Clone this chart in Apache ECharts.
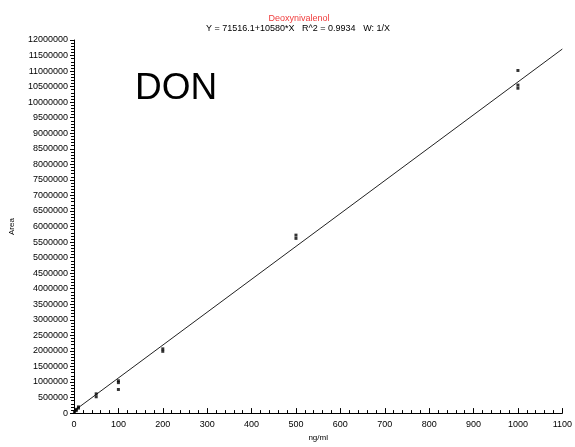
<!DOCTYPE html>
<html>
<head>
<meta charset="utf-8">
<script src="https://cdn.jsdelivr.net/npm/echarts@6/dist/echarts.min.js"></script>
<style>
html,body{margin:0;padding:0;background:#fff;}
#c{width:575px;height:447px;}
</style>
</head>
<body>
<div id="c"></div>
<script>
// Data
var concX = [1, 5, 5, 10, 10, 50, 50, 100, 100, 100, 200, 200, 500, 500, 1000, 1000, 1000];
var areaY = [40000, 120000, 80000, 200000, 160000, 620000, 525000, 1040000, 980000, 760000, 2066000, 1987000, 5724000, 5620000, 11020000, 10550000, 10450000];
var fitX = [0, 1100];
var fitY = [71516.1, 11709516.1];
var titleText = 'Deoxynivalenol';
var equationText = 'Y = 71516.1+10580*X   R^2 = 0.9934   W: 1/X';
var xTicks = [0, 100, 200, 300, 400, 500, 600, 700, 800, 900, 1000, 1100];

var FONT = 'Liberation Sans, Arial, sans-serif';
var points = concX.map(function (x, i) { return [x, areaY[i]]; });
var fitLine = fitX.map(function (x, i) { return [x, fitY[i]]; });
var plain = function (v) { return String(v); };

var chart = echarts.init(document.getElementById('c'), null, {renderer: 'canvas'});
chart.setOption({
  backgroundColor: '#fff',
  animation: false,
  title: [
    {text: titleText, left: 294, top: 9, textAlign: 'center',
     textStyle: {fontSize: 9, color: '#f03c3c', fontWeight: 'normal', fontFamily: FONT}},
    {text: equationText, left: 293, top: 19, textAlign: 'center',
     textStyle: {fontSize: 9, color: '#000', fontWeight: 'normal', fontFamily: FONT}}
  ],
  grid: {left: 71, right: 9, top: 40, bottom: 26.5, containLabel: false},
  xAxis: {
    type: 'value', min: xTicks[0], max: xTicks[xTicks.length - 1], interval: 100,
    name: 'ng/ml', nameLocation: 'middle', nameGap: 19,
    nameTextStyle: {fontSize: 8, color: '#000', fontFamily: FONT},
    axisLine: {show: true, onZero: false, lineStyle: {color: '#000', width: 1}},
    axisTick: {show: true, inside: true, length: 5, lineStyle: {color: '#000'}},
    minorTick: {show: true, splitNumber: 5, length: 3, lineStyle: {color: '#000'}},
    axisLabel: {fontSize: 9, color: '#000', margin: 7, fontFamily: FONT, formatter: plain},
    splitLine: {show: false}
  },
  yAxis: {
    type: 'value', min: 0, max: 12000000, interval: 500000,
    name: 'Area', nameLocation: 'middle', nameGap: 58, nameRotate: 90,
    nameTextStyle: {fontSize: 8, color: '#000', fontFamily: FONT},
    axisLine: {show: true, onZero: false, lineStyle: {color: '#000', width: 1}},
    axisTick: {show: true, inside: false, length: 4, lineStyle: {color: '#000'}},
    minorTick: {show: true, splitNumber: 5, length: 3, lineStyle: {color: '#000'}},
    axisLabel: {fontSize: 9, color: '#000', margin: 6, fontFamily: FONT, formatter: plain},
    splitLine: {show: false}
  },
  graphic: [
    {type: 'text', left: 135, top: 70,
     style: {text: 'DON', font: '37px ' + FONT, fill: '#000'}}
  ],
  series: [
    {type: 'line', data: fitLine, showSymbol: false, symbol: 'none',
     lineStyle: {color: '#222', width: 1}, z: 2},
    {type: 'scatter', data: points, symbol: 'rect', symbolSize: 3,
     itemStyle: {color: '#000'}, z: 3}
  ]
});
</script>
</body>
</html>
